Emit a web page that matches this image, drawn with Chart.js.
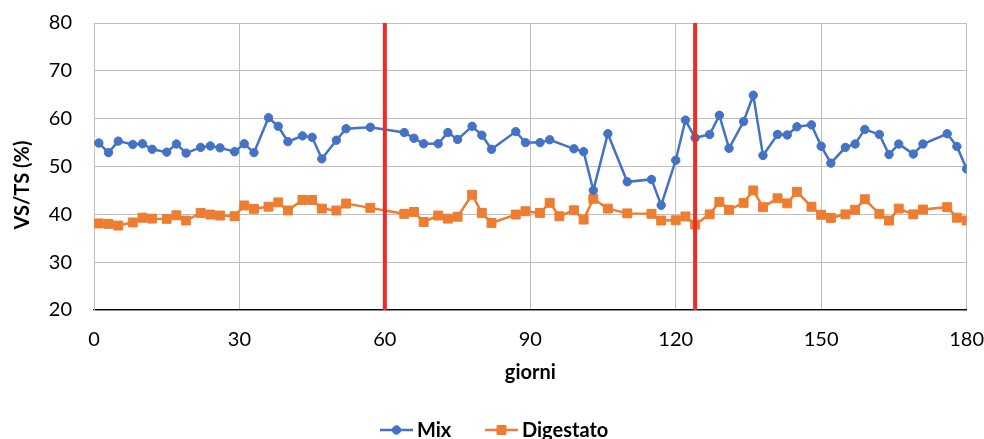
<!DOCTYPE html>
<html lang="it">
<head>
<meta charset="utf-8">
<title>VS/TS</title>
<script src="https://cdn.jsdelivr.net/npm/chart.js@4.4.1/dist/chart.umd.min.js"></script>
<style>
  html, body { margin: 0; padding: 0; background: #fff; }
  #wrap { width: 984px; height: 439px; }
</style>
</head>
<body>
<div id="wrap"><canvas id="chart" width="984" height="439"></canvas></div>
<script>
// giorni di campionamento e valori VS/TS (%)
var mixDays = [1,3,5,8,10,12,15,17,19,22, 24,26,29,31,33,36,38,40,43,45,
  47,50,52,57,64,66,68,71,73,75, 78,80,82,87,89,92,94,99,101,103,
  106,110,115,117,120,122,124,127,129,131, 134,136,138,141,143,145,148,150,152,155,
  157,159,162,164,166,169,171,176,178,180];
var mixValues = [54.9,52.9,55.3,54.6,54.75,53.6,53.0,54.7,52.8,54.0,
  54.3,53.9,53.1,54.75,52.9,60.2,58.4,55.2,56.4,56.1,
  51.6,55.5,57.9,58.2,57.1,55.9,54.75,54.75,57.1,55.65,
  58.4,56.55,53.6,57.3,55.0,55.0,55.6,53.7,53.1,45.0,
  56.85,46.8,47.3,41.9,51.3,59.7,56.0,56.7,60.7,53.8,
  59.4,64.9,52.3,56.7,56.6,58.3,58.7,54.25,50.7,54.0,
  54.7,57.75,56.7,52.5,54.7,52.6,54.7,56.85,54.2,49.5];

var digDays = [1,3,5,8,10,12,15,17,19,22, 24,26,29,31,33,36,38,40,43,45,
  47,50,52,57,64,66,68,71,73,75, 78,80,82,87,89,92,94,96,99,101,
  103,106,110,115,117,120,122,124,127,129, 131,134,136,138,141,143,145,148,150,152,
  155,157,159,162,164,166,169,171,176,178, 180];
var digValues = [38.1,38.0,37.65,38.3,39.3,39.1,39.05,39.8,38.7,40.3,
  39.95,39.75,39.6,41.85,41.15,41.6,42.5,40.8,43.0,43.0,
  41.2,40.8,42.25,41.35,40.1,40.5,38.4,39.75,39.1,39.5,
  44.1,40.3,38.2,39.95,40.65,40.3,42.4,39.6,40.85,38.9,
  43.25,41.2,40.2,40.1,38.7,38.75,39.55,37.85,40.0,42.6,
  40.95,42.4,45.0,41.5,43.35,42.3,44.7,41.6,39.9,39.25,
  40.0,40.95,43.15,40.1,38.7,41.2,40.0,41.0,41.5,39.3,
  38.7];

// linee verticali rosse (cambi di fase)
var phaseDays = [60, 124];

var xMin = 0, xMax = 180, xStep = 30;
var yMin = 20, yMax = 80, yStep = 10;

var BLUE = '#4472C4', ORANGE = '#ED7D31', RED = '#EE2B24';

function pts(xs, ys) {
  return xs.map(function (x, i) { return { x: x, y: ys[i] }; });
}

var datasets = phaseDays.map(function (d) {
  return {
    label: 'fase ' + d,
    data: [{ x: d, y: yMin }, { x: d, y: yMax }],
    borderColor: RED, borderWidth: 4, pointRadius: 0, order: 0
  };
});
datasets.push({
  label: 'Mix', data: pts(mixDays, mixValues),
  borderColor: BLUE, backgroundColor: BLUE, borderWidth: 2.5,
  pointStyle: 'circle', pointRadius: 4.2, pointBorderWidth: 1, order: 1
});
datasets.push({
  label: 'Digestato', data: pts(digDays, digValues),
  borderColor: ORANGE, backgroundColor: ORANGE, borderWidth: 2.5,
  pointStyle: 'rect', pointRadius: 6.3, pointBorderWidth: 1, order: 2
});

// titolo asse y (un po' più in basso del centro, come in Excel) e legenda sotto il grafico
var extrasPlugin = {
  id: 'excelExtras',
  afterDraw: function (chart) {
    var ctx = chart.ctx;
    ctx.save();
    ctx.fillStyle = '#000';
    ctx.font = 'bold 20px Lato';
    ctx.textAlign = 'center';
    ctx.textBaseline = 'middle';
    ctx.translate(23, 185);
    ctx.rotate(-Math.PI / 2);
    ctx.fillText('VS/TS (%)', 0, 0);
    ctx.restore();

    var y = 430;
    var items = [
      { text: 'Mix', color: BLUE, style: 'circle', r: 4.2, x0: 380 },
      { text: 'Digestato', color: ORANGE, style: 'rect', r: 6.3, x0: 485 }
    ];
    ctx.save();
    items.forEach(function (it) {
      ctx.strokeStyle = it.color;
      ctx.lineWidth = 2.5;
      ctx.beginPath();
      ctx.moveTo(it.x0, y);
      ctx.lineTo(it.x0 + 33, y);
      ctx.stroke();
      ctx.fillStyle = it.color;
      ctx.lineWidth = 1;
      Chart.helpers.drawPoint(ctx, { pointStyle: it.style, radius: it.r, borderWidth: 1 }, it.x0 + 16.5, y);
      ctx.fillStyle = '#000';
      ctx.font = 'bold 20px Lato';
      ctx.textBaseline = 'middle';
      ctx.textAlign = 'left';
      ctx.fillText(it.text, it.x0 + 37, y + 1);
    });
    ctx.restore();
  }
};

new Chart(document.getElementById('chart'), {
  type: 'line',
  data: { datasets: datasets },
  plugins: [extrasPlugin],
  options: {
    responsive: false,
    animation: false,
    layout: { padding: { top: 23, right: 0, left: 0, bottom: 0 } },
    plugins: {
      legend: { display: false },
      tooltip: { enabled: false }
    },
    elements: { line: { tension: 0 } },
    scales: {
      x: {
        type: 'linear', min: xMin, max: xMax,
        ticks: { stepSize: xStep, color: '#000', padding: 0, font: { family: 'Lato', size: 20 } },
        grid: { color: '#BFBFBF', drawTicks: true, tickLength: 18, tickColor: 'rgba(0,0,0,0)' },
        border: { color: '#000', width: 1.3 },
        title: { display: true, text: 'giorni', color: '#000', padding: { top: 0, bottom: 54 },
          font: { family: 'Lato', size: 20, weight: 'bold' } },
        afterFit: function (s) { s.height = 129; }
      },
      y: {
        min: yMin, max: yMax,
        ticks: { stepSize: yStep, color: '#000', padding: 2, font: { family: 'Lato', size: 20 } },
        grid: { color: '#BFBFBF', drawTicks: true, tickLength: 20, tickColor: 'rgba(0,0,0,0)' },
        border: { color: '#BFBFBF' },
        title: { display: false },
        afterFit: function (s) { s.width = 94; }
      }
    }
  }
});
</script>
</body>
</html>
